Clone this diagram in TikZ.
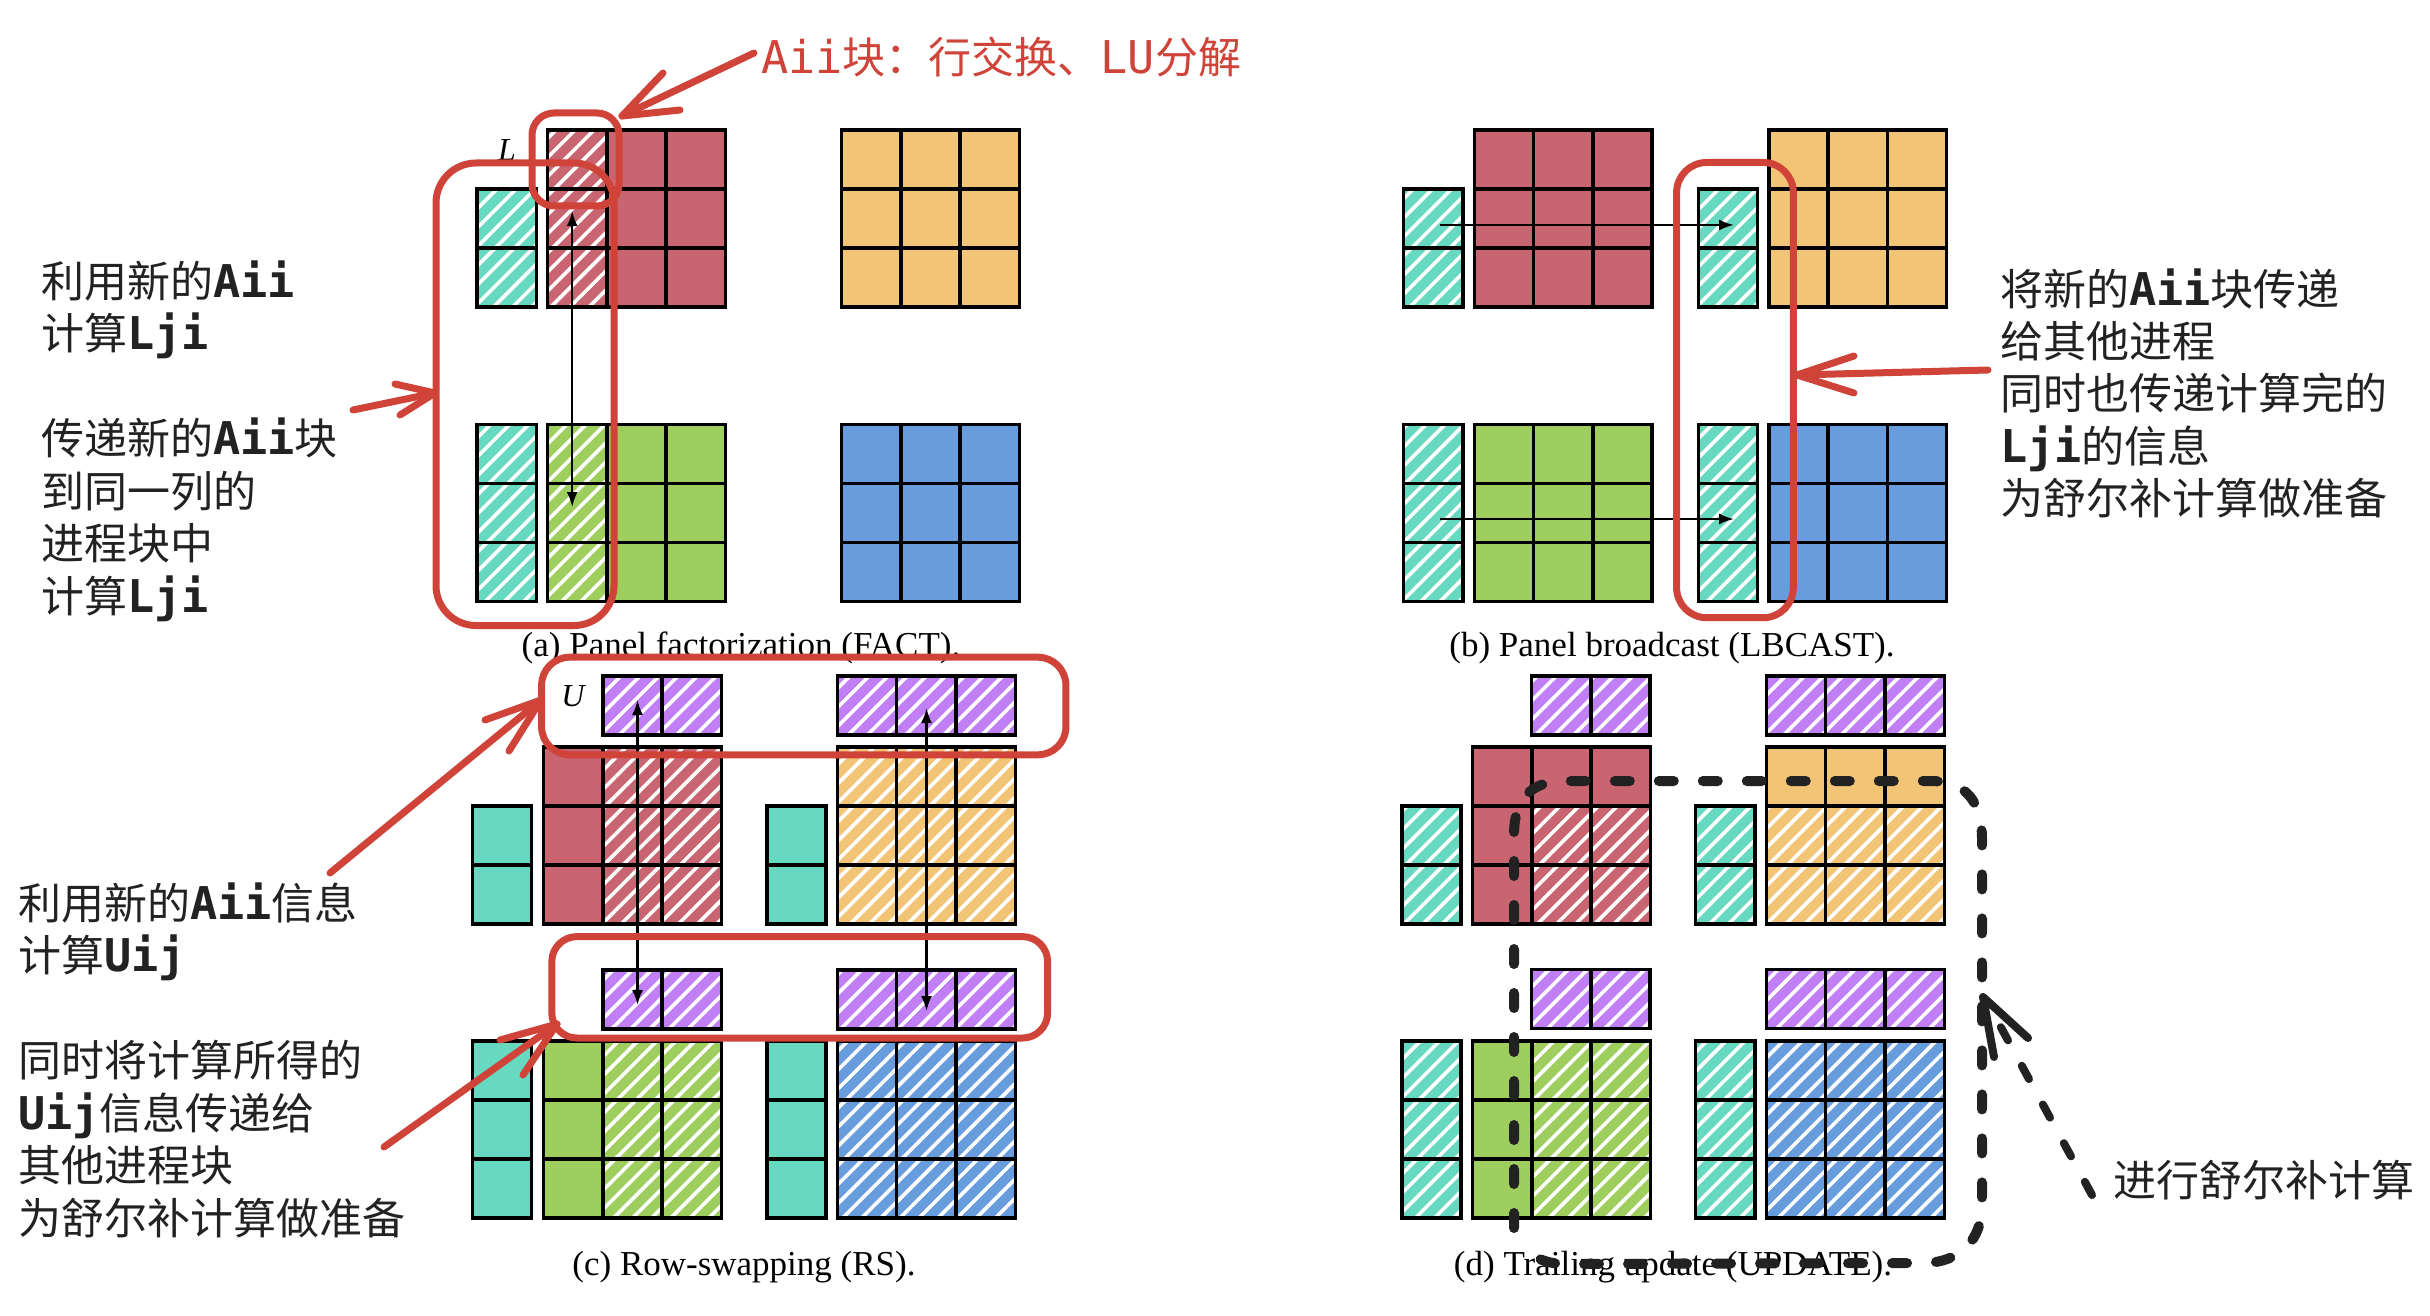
\documentclass[tikz,border=0pt]{standalone}
\usepackage{fontspec}
\usetikzlibrary{patterns.meta,arrows.meta}
\newfontfamily\cjk{Noto Sans CJK SC}
\newfontfamily\monof{DejaVu Sans Mono}[Scale=1.05]
\newfontfamily\capf{Liberation Serif}
\definecolor{tealc}{RGB}{102,217,192}
\definecolor{redc}{RGB}{201,101,113}
\definecolor{yellowc}{RGB}{242,197,118}
\definecolor{greenc}{RGB}{157,206,94}
\definecolor{bluec}{RGB}{104,157,221}
\definecolor{purplec}{RGB}{193,127,245}
\definecolor{annred}{RGB}{207,67,57}
\definecolor{textc}{RGB}{34,34,34}
\def\cw{59.3}
\def\ch{59}
\newcommand\mt[1]{{\monof\bfseries #1}}
\newcommand\mtr[1]{{\monof #1}}
\newcommand\tfont{\cjk\fontsize{43}{52}\selectfont}
\newcommand\hatchreg[4]{\path[hatchst] ({#1},{#2}) rectangle ++({#3*\cw},{#4*\ch});}
\newcommand\blk[6]{%
  \fill[#5] ({#1},{#2}) rectangle ++({#3*\cw},{#4*\ch});
  #6
  \foreach \i in {0,...,#3} {\draw[gridst] ({#1+\i*\cw},{#2}) -- ++(0,{#4*\ch});}
  \foreach \j in {0,...,#4} {\draw[gridst] ({#1},{#2+\j*\ch}) -- ++({#3*\cw},0);}
}
\tikzset{
  gridst/.style={draw=black, line width=3.5pt, line cap=rect},
  hatchst/.style={pattern={Lines[angle=45,distance=13.5pt,line width=3.6pt]}, pattern color=white},
  txt/.style={anchor=base west, inner sep=0pt, font=\tfont, text=textc},
  capst/.style={anchor=base, inner sep=0pt, font=\capf\fontsize{35}{40}\selectfont},
  redpen/.style={draw=annred, line width=7pt, line cap=round, line join=round},
  redbox/.style={draw=annred, line width=7pt},
  blackarr/.style={draw=black, line width=2.2pt, {Latex[length=15pt,width=11pt]}-{Latex[length=15pt,width=11pt]}},
  onearr/.style={draw=black, line width=2.2pt, -{Latex[length=15pt,width=11pt]}},
  dashpen/.style={draw=textc, line width=10pt, line cap=round, dash pattern=on 15pt off 29pt},
  headpen/.style={draw=textc, line width=9pt, line cap=round, line join=round}
}
\begin{document}
\begin{tikzpicture}[x=1pt,y=-1pt]
\useasboundingbox (0,0) rectangle (2430,1316);
\fill[white] (0,0) rectangle (2430,1316);

% ---------------- Panel (a)
\blk{477}{189}{1}{2}{tealc}{\hatchreg{477}{189}{1}{2}}
\blk{547.5}{130}{3}{3}{redc}{\hatchreg{547.5}{130}{1}{3}}
\blk{841.5}{130}{3}{3}{yellowc}{}
\blk{477}{424.3}{1}{3}{tealc}{\hatchreg{477}{424.3}{1}{3}}
\blk{547.5}{424.3}{3}{3}{greenc}{\hatchreg{547.5}{424.3}{1}{3}}
\blk{841.5}{424.3}{3}{3}{bluec}{}
\node[font=\capf\itshape\fontsize{32}{32}\selectfont, inner sep=0pt] (Llab) at (507,150) {L};
\coordinate (a1) at (572.2,211);
\coordinate (a2) at (572.2,507);
\draw[blackarr] (a1) -- (a2);
\node[capst] (capa) at (741,656) {(a) Panel factorization (FACT).};

% ---------------- Panel (b)
\blk{1403.5}{189}{1}{2}{tealc}{\hatchreg{1403.5}{189}{1}{2}}
\blk{1474.3}{130}{3}{3}{redc}{}
\blk{1698.4}{189}{1}{2}{tealc}{\hatchreg{1698.4}{189}{1}{2}}
\blk{1768.8}{130}{3}{3}{yellowc}{}
\blk{1403.5}{424.3}{1}{3}{tealc}{\hatchreg{1403.5}{424.3}{1}{3}}
\blk{1474.3}{424.3}{3}{3}{greenc}{}
\blk{1698.4}{424.3}{1}{3}{tealc}{\hatchreg{1698.4}{424.3}{1}{3}}
\blk{1768.8}{424.3}{3}{3}{bluec}{}
\coordinate (b1s) at (1440,225);
\coordinate (b1e) at (1734,225);
\coordinate (b2s) at (1440,519);
\coordinate (b2e) at (1734,519);
\draw[onearr] (b1s) -- (b1e);
\draw[onearr] (b2s) -- (b2e);
\node[capst] (capb) at (1672,656) {(b) Panel broadcast (LBCAST).};

% ---------------- Panel (c)
\blk{602.8}{676.2}{2}{1}{purplec}{\hatchreg{602.8}{676.2}{2}{1}}
\blk{837.4}{676.2}{3}{1}{purplec}{\hatchreg{837.4}{676.2}{3}{1}}
\blk{472.4}{806.2}{1}{2}{tealc}{}
\blk{543.5}{747.2}{3}{3}{redc}{\hatchreg{543.5+\cw}{747.2}{2}{3}}
\blk{766.8}{806.2}{1}{2}{tealc}{}
\blk{837.4}{747.2}{3}{3}{yellowc}{\hatchreg{837.4}{747.2}{3}{3}}
\blk{602.8}{970}{2}{1}{purplec}{\hatchreg{602.8}{970}{2}{1}}
\blk{837.4}{970}{3}{1}{purplec}{\hatchreg{837.4}{970}{3}{1}}
\blk{472.4}{1041}{1}{3}{tealc}{}
\blk{543.5}{1041}{3}{3}{greenc}{\hatchreg{543.5+\cw}{1041}{2}{3}}
\blk{766.8}{1041}{1}{3}{tealc}{}
\blk{837.4}{1041}{3}{3}{bluec}{\hatchreg{837.4}{1041}{3}{3}}
\node[font=\capf\itshape\fontsize{32}{32}\selectfont, inner sep=0pt] (Ulab) at (573,696) {U};
\coordinate (c1s) at (637.5,700);
\coordinate (c1e) at (637.5,1005);
\coordinate (c2s) at (926.5,708);
\coordinate (c2e) at (926.5,1011);
\draw[blackarr] (c1s) -- (c1e);
\draw[blackarr] (c2s) -- (c2e);
\node[capst] (capc) at (744,1275) {(c) Row-swapping (RS).};

% ---------------- Panel (d)
\blk{1531.5}{676}{2}{1}{purplec}{\hatchreg{1531.5}{676}{2}{1}}
\blk{1766.4}{676}{3}{1}{purplec}{\hatchreg{1766.4}{676}{3}{1}}
\blk{1401.9}{805.9}{1}{2}{tealc}{\hatchreg{1401.9}{805.9}{1}{2}}
\blk{1472.6}{746.9}{3}{3}{redc}{\hatchreg{1472.6+\cw}{746.9+\ch}{2}{2}}
\blk{1695.7}{805.9}{1}{2}{tealc}{\hatchreg{1695.7}{805.9}{1}{2}}
\blk{1766.4}{746.9}{3}{3}{yellowc}{\hatchreg{1766.4}{746.9+\ch}{3}{2}}
\blk{1531.5}{969.7}{2}{1}{purplec}{\hatchreg{1531.5}{969.7}{2}{1}}
\blk{1766.4}{969.7}{3}{1}{purplec}{\hatchreg{1766.4}{969.7}{3}{1}}
\blk{1401.9}{1041}{1}{3}{tealc}{\hatchreg{1401.9}{1041}{1}{3}}
\blk{1472.6}{1041}{3}{3}{greenc}{\hatchreg{1472.6+\cw}{1041}{2}{3}}
\blk{1695.7}{1041}{1}{3}{tealc}{\hatchreg{1695.7}{1041}{1}{3}}
\blk{1766.4}{1041}{3}{3}{bluec}{\hatchreg{1766.4}{1041}{3}{3}}
\node[capst] (capd) at (1673,1275) {(d) Trailing update (UPDATE).};

% ---------------- red annotation boxes
\draw[redbox, rounded corners=40pt] (436,163) rectangle (614,625.5);
\draw[redbox, rounded corners=22pt] (532,113) rectangle (619,206);
\draw[redbox, rounded corners=30pt] (1676.6,162.5) rectangle (1793.3,617.7);
\draw[redbox, rounded corners=28pt] (541.6,657.2) rectangle (1065.9,754.8);
\draw[redbox, rounded corners=25pt] (551.8,936.6) rectangle (1047.6,1038);

% ---------------- red arrows
\coordinate (r1s) at (754,53);   \coordinate (r1t) at (622,116);
\coordinate (r1h) at (663,73);   \coordinate (r1k) at (680,110);
\draw[redpen] (r1s) -- (r1t);
\draw[redpen] (r1h) -- (r1t) -- (r1k);

\coordinate (r2s) at (353,410);  \coordinate (r2t) at (435,393);
\coordinate (r2h) at (395,384);  \coordinate (r2k) at (400,415);
\draw[redpen] (r2s) -- (r2t);
\draw[redpen] (r2h) -- (r2t) -- (r2k);

\coordinate (r3s) at (1988,370); \coordinate (r3t) at (1797,375);
\coordinate (r3h) at (1854,356); \coordinate (r3k) at (1854,393);
\draw[redpen] (r3s) -- (r3t);
\draw[redpen] (r3h) -- (r3t) -- (r3k);

\coordinate (r4s) at (330,873);  \coordinate (r4t) at (541,700);
\coordinate (r4h) at (485,720);  \coordinate (r4k) at (509,751);
\draw[redpen] (r4s) -- (r4t);
\draw[redpen] (r4h) -- (r4t) -- (r4k);

\coordinate (r5s) at (384,1147); \coordinate (r5t) at (557,1024);
\coordinate (r5h) at (500,1040); \coordinate (r5k) at (523,1075);
\draw[redpen] (r5s) -- (r5t);
\draw[redpen] (r5h) -- (r5t) -- (r5k);

% ---------------- dashed loop in (d)
\draw[dashpen] (1514,1228) -- (1514,835) .. controls (1514,800) and (1530,781) .. (1565,781)
  -- (1930,781) .. controls (1965,781) and (1982,800) .. (1982,840)
  -- (1982,1205) .. controls (1982,1240) and (1960,1262) .. (1925,1263)
  -- (1565,1264) .. controls (1545,1264) and (1530,1256) .. (1519,1244);
\coordinate (dt) at (1983,997);
\coordinate (ds) at (2092,1195);
\coordinate (dh1) at (2028,1038);
\coordinate (dh2) at (1994,1057);
\draw[dashpen, line width=8pt] (ds) -- (1998,1022);
\draw[headpen, line width=8pt] (dh1) -- (dt) -- (dh2);

% ---------------- texts
\node[txt] (lt1) at (41,297) {利用新的\mt{Aii}};
\node[txt] (lt2) at (41,349.5) {计算\mt{Lji}};
\node[txt] (lt3) at (41,454.5) {传递新的\mt{Aii}块};
\node[txt] (lt4) at (41,507) {到同一列的};
\node[txt] (lt5) at (41,559.5) {进程块中};
\node[txt] (lt6) at (41,612) {计算\mt{Lji}};

\node[txt] (rt1) at (2000,305) {将新的\mt{Aii}块传递};
\node[txt] (rt2) at (2000,357.3) {给其他进程};
\node[txt] (rt3) at (2000,409.6) {同时也传递计算完的};
\node[txt] (rt4) at (2000,462) {\mt{Lji}的信息};
\node[txt] (rt5) at (2000,514.3) {为舒尔补计算做准备};

\node[txt] (lb1) at (18,919.5) {利用新的\mt{Aii}信息};
\node[txt] (lb2) at (18,971.5) {计算\mt{Uij}};
\node[txt] (lb3) at (18,1076.5) {同时将计算所得的};
\node[txt] (lb4) at (18,1129) {\mt{Uij}信息传递给};
\node[txt] (lb5) at (18,1181.5) {其他进程块};
\node[txt] (lb6) at (18,1234) {为舒尔补计算做准备};

\node[txt, text=annred] (tt) at (761,74) {\mtr{Aii}块：行交换、\mtr{LU}分解};
\node[txt] (br) at (2113,1196) {进行舒尔补计算};
\end{tikzpicture}
\end{document}
